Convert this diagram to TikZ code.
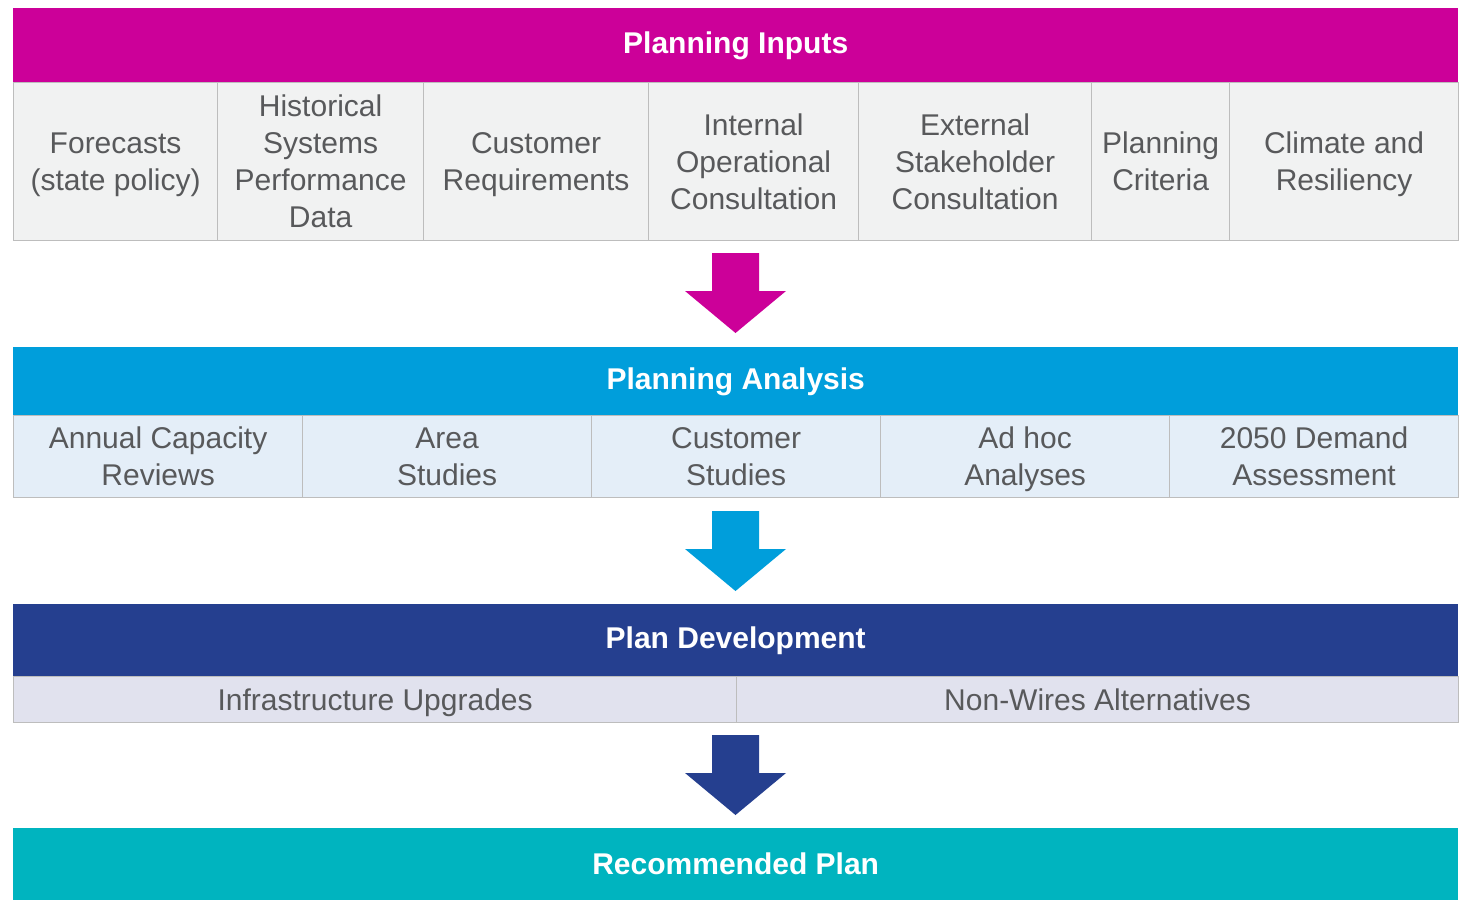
\documentclass[tikz,border=0pt]{standalone}
\usepackage{fontspec}
\setmainfont{Liberation Sans}
\definecolor{pinkhead}{HTML}{CC0099}
\definecolor{bluehead}{HTML}{009EDB}
\definecolor{navyhead}{HTML}{253F8F}
\definecolor{tealhead}{HTML}{00B4BF}
\definecolor{inbg}{HTML}{F1F2F2}
\definecolor{anabg}{HTML}{E4EEF8}
\definecolor{devbg}{HTML}{E1E2EE}
\definecolor{edge}{HTML}{BDBDBD}
\definecolor{txt}{HTML}{58595B}
\newcommand\tstrut{\rule[-7pt]{0pt}{35pt}}
\newcommand\bstrut{\rule[-8pt]{0pt}{33pt}}
\tikzset{
  band/.style={anchor=north west, inner sep=0pt, minimum width=1445pt, text=white,
    font=\fontsize{30}{37}\selectfont\bfseries, execute at begin node=\bstrut},
  cell/.style={draw=edge, line width=1.2pt, anchor=north west, inner sep=0pt, align=center,
    text=txt, font=\fontsize{30}{37}\selectfont},
}
\begin{document}
\begin{tikzpicture}[x=1pt, y=-1pt]
  \useasboundingbox (0,0) rectangle (1466,899);
  % headers
  \node[band, fill=pinkhead, minimum height=74pt] (inputs) at (13,8) {Planning Inputs};
  \node[band, fill=bluehead, minimum height=68pt] (analysis) at (13,347) {Planning Analysis};
  \node[band, fill=navyhead, minimum height=72pt] (develop) at (13,604) {Plan Development};
  \node[band, fill=tealhead, minimum height=76pt] (plan) at (13,828) {Recommended Plan};
  % planning inputs
  \foreach \x/\w/\name/\txt in {13/204/fcst/{Forecasts\\(state policy)},
      217/206/hist/{Historical\\Systems\\Performance\\Data},
      423/225/creq/{Customer\\Requirements},
      648/210/intl/{Internal\\Operational\\Consultation},
      858/233/extl/{External\\Stakeholder\\Consultation},
      1091/138/crit/{Planning\\Criteria},
      1229/229/clim/{Climate and\\Resiliency}}
    \node[cell, fill=inbg, minimum width=\w pt, minimum height=158pt] (\name) at (\x,82) {\tstrut\txt\tstrut};
  % planning analysis
  \foreach \x/\name/\txt in {13/acr/{Annual Capacity\\Reviews}, 302/area/{Area\\Studies},
      591/cstd/{Customer\\Studies}, 880/adhoc/{Ad hoc\\Analyses}, 1169/dmd/{2050 Demand\\Assessment}}
    \node[cell, fill=anabg, minimum width=289pt, minimum height=82pt] (\name) at (\x,415) {\tstrut\txt\tstrut};
  % plan development
  \node[cell, fill=devbg, minimum width=723pt, minimum height=46pt] (infra) at (13,676) {\tstrut Infrastructure Upgrades};
  \node[cell, fill=devbg, minimum width=722pt, minimum height=46pt] (nwa) at (736,676) {\tstrut Non-Wires Alternatives};
  % arrows
  \foreach \top/\col in {253/pinkhead, 511/bluehead, 735/navyhead}
    \fill[\col] (712,\top) -- (759,\top) -- (759,\top+38) -- (786,\top+38) -- (735.5,\top+80)
      -- (685,\top+38) -- (712,\top+38) -- cycle;
\end{tikzpicture}
\end{document}
